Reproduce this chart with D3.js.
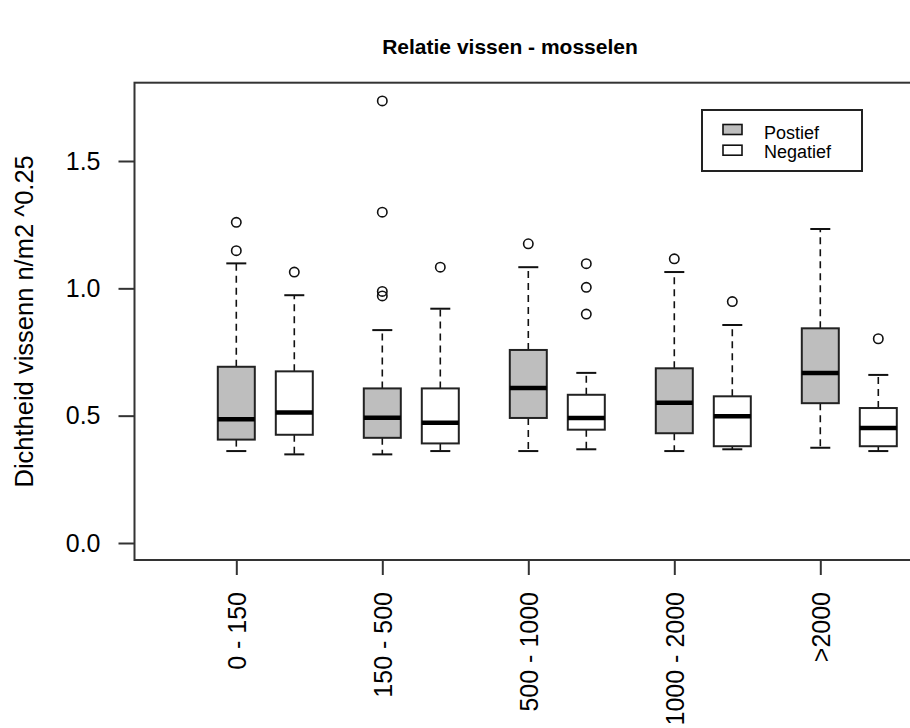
<!DOCTYPE html>
<html>
<head>
<meta charset="utf-8">
<script src="https://cdn.jsdelivr.net/npm/d3@7"></script>
<style>
  body { margin: 0; background: #fff; }
  text { font-family: "Liberation Sans", Arial, sans-serif; fill: #000; }
</style>
</head>
<body>
<div class="chart"></div>
<script>
// categories on the x axis and the two series
const categories = ["0 - 150", "150 - 500", "500 - 1000", "1000 - 2000", ">2000"];
const series = ["Postief", "Negatief"];
const yTicks = [0, 0.5, 1.0, 1.5];

// box stats per category: [lower whisker, q1, median, q3, upper whisker]
const postiefStats = [
    [0.361, 0.406, 0.486, 0.692, 1.098],
    [0.348, 0.413, 0.492, 0.607, 0.836],
    [0.361, 0.491, 0.609, 0.758, 1.083],
    [0.361, 0.431, 0.551, 0.686, 1.064],
    [0.374, 0.549, 0.668, 0.843, 1.233]
];
const negatiefStats = [
    [0.348, 0.425, 0.512, 0.674, 0.973],
    [0.361, 0.391, 0.472, 0.607, 0.920],
    [0.368, 0.445, 0.491, 0.582, 0.668],
    [0.368, 0.380, 0.498, 0.576, 0.856],
    [0.361, 0.380, 0.452, 0.530, 0.660]
];
const postiefOutliers = [
    [1.148, 1.259],
    [0.970, 0.988, 1.299, 1.736],
    [1.175],
    [1.116],
    []
];
const negatiefOutliers = [
    [1.064],
    [1.083],
    [0.899, 1.004, 1.097],
    [0.948],
    [0.802]
];

const W = 910, H = 728;
const frame = {left: 134.5, top: 82.7, right: 920, bottom: 560};

const svg = d3.select('.chart').append('svg')
    .attr('width', W)
    .attr('height', H);

// scales
const y = d3.scaleLinear().domain([0, 1.5]).range([543, 161]);
const xGroup = d3.scalePoint().domain(categories).range([265.3, 849.3]);
const xSub = d3.scaleBand().domain(series).range([-58, 58]);
const fill = d3.scaleOrdinal().domain(series).range(["#bebebe", "#ffffff"]);
// ticks sit under the Postief boxes
const tickOff = xSub("Postief") + xSub.bandwidth() / 2;
const xTick = d3.scalePoint().domain(categories)
    .range(xGroup.range().map(v => v + tickOff));

const boxW = 37, capW = 20;

// build rows for drawing
let rows = [];
categories.forEach(function(c, i) {
    rows.push({cat: c, s: "Postief", st: postiefStats[i], out: postiefOutliers[i]});
    rows.push({cat: c, s: "Negatief", st: negatiefStats[i], out: negatiefOutliers[i]});
});
const cx = d => xGroup(d.cat) + xSub(d.s) + xSub.bandwidth() / 2;

// title
svg.append("text")
    .attr("x", 510)
    .attr("y", 54)
    .attr("text-anchor", "middle")
    .style("font-size", "21px")
    .style("font-weight", "bold")
    .text("Relatie vissen - mosselen");

// boxes
const g = svg.selectAll(".box")
    .data(rows)
    .enter().append("g")
    .attr("class", "box");

// whiskers (dashed)
g.append("line")
    .attr("x1", cx).attr("x2", cx)
    .attr("y1", d => y(d.st[3])).attr("y2", d => y(d.st[4]))
    .attr("stroke", "#111").attr("stroke-width", 1.6)
    .attr("stroke-dasharray", "7,5");
g.append("line")
    .attr("x1", cx).attr("x2", cx)
    .attr("y1", d => y(d.st[1])).attr("y2", d => y(d.st[0]))
    .attr("stroke", "#111").attr("stroke-width", 1.6)
    .attr("stroke-dasharray", "7,5");

// caps
[0, 4].forEach(function(k) {
    g.append("line")
        .attr("x1", d => cx(d) - capW / 2).attr("x2", d => cx(d) + capW / 2)
        .attr("y1", d => y(d.st[k])).attr("y2", d => y(d.st[k]))
        .attr("stroke", "#111").attr("stroke-width", 2);
});

g.append("rect")
    .attr("x", d => cx(d) - boxW / 2)
    .attr("y", d => y(d.st[3]))
    .attr("width", boxW)
    .attr("height", d => y(d.st[1]) - y(d.st[3]))
    .attr("fill", d => fill(d.s))
    .attr("stroke", "#222").attr("stroke-width", 2);

// medians
g.append("line")
    .attr("x1", d => cx(d) - boxW / 2).attr("x2", d => cx(d) + boxW / 2)
    .attr("y1", d => y(d.st[2])).attr("y2", d => y(d.st[2]))
    .attr("stroke", "#000").attr("stroke-width", 4.5);

// outliers
g.selectAll("circle")
    .data(d => d.out.map(v => ({v: v, d: d})))
    .enter().append("circle")
    .attr("cx", o => cx(o.d))
    .attr("cy", o => y(o.v))
    .attr("r", 4.7)
    .attr("fill", "none")
    .attr("stroke", "#111").attr("stroke-width", 1.6);

// frame
svg.append("rect")
    .attr("x", frame.left).attr("y", frame.top)
    .attr("width", frame.right - frame.left)
    .attr("height", frame.bottom - frame.top)
    .attr("fill", "none")
    .attr("stroke", "#333").attr("stroke-width", 2);

// y axis
const yAxis = svg.append("g")
    .attr("transform", "translate(" + frame.left + ",0)")
    .call(d3.axisLeft(y).tickValues(yTicks).tickFormat(d3.format(".1f")).tickSize(16).tickPadding(18));
yAxis.select(".domain").remove();
yAxis.selectAll("line").attr("stroke", "#333").attr("stroke-width", 2);
yAxis.selectAll("text").style("font-size", "25px").style("font-family", "Liberation Sans, Arial, sans-serif").attr("fill", "#000");

// x axis
const xAxis = svg.append("g")
    .attr("transform", "translate(0," + frame.bottom + ")")
    .call(d3.axisBottom(xTick).tickSize(15));
xAxis.select(".domain").remove();
xAxis.selectAll("line").attr("stroke", "#333").attr("stroke-width", 2);
xAxis.selectAll("text")
    .style("font-size", "25px")
    .style("font-family", "Liberation Sans, Arial, sans-serif")
    .attr("fill", "#000")
    .attr("transform", "rotate(-90)")
    .attr("x", -32)
    .attr("y", 0)
    .attr("dy", "0.35em")
    .style("text-anchor", "end");

// y label
svg.append("text")
    .attr("transform", "translate(33," + (frame.top + frame.bottom) / 2 + ") rotate(-90)")
    .attr("text-anchor", "middle")
    .style("font-size", "25.5px")
    .text("Dichtheid vissenn n/m2 ^0.25");

// legend
const leg = svg.append("g").attr("transform", "translate(702,110)");
leg.append("rect")
    .attr("width", 160).attr("height", 61)
    .attr("fill", "#fff")
    .attr("stroke", "#222").attr("stroke-width", 2);
series.forEach(function(s, i) {
    leg.append("rect")
        .attr("x", 21).attr("y", 14.5 + i * 20.7)
        .attr("width", 19).attr("height", 10)
        .attr("fill", fill(s))
        .attr("stroke", "#111").attr("stroke-width", 1.6);
    leg.append("text")
        .attr("x", 62).attr("y", 28.5 + i * 19)
        .style("font-size", "18px")
        .text(s);
});
</script>
</body>
</html>
